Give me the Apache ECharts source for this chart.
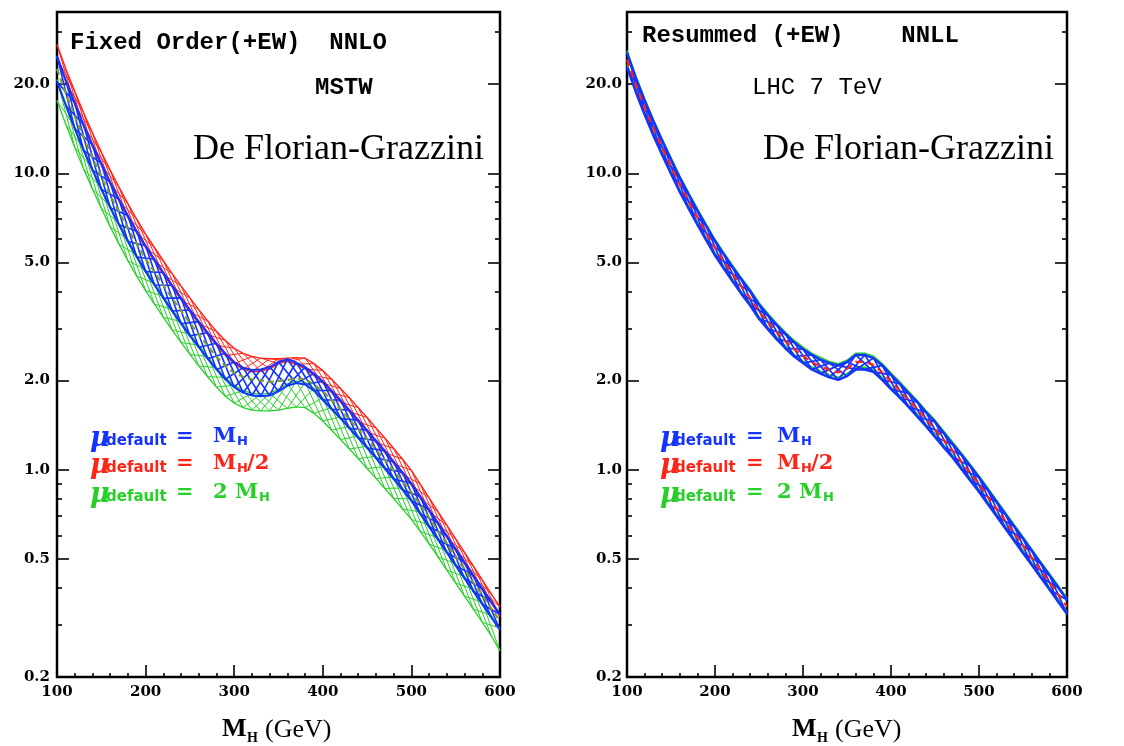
<!DOCTYPE html>
<html>
<head>
<meta charset="utf-8">
<script src="https://cdn.jsdelivr.net/npm/echarts@6/dist/echarts.min.js"></script>
<style>
  html, body { margin: 0; padding: 0; background: #fff; }
  #chart { width: 1124px; height: 746px; }
</style>
</head>
<body>
<div id="chart"></div>
<script>
// Higgs mass grid (GeV)
const massGrid = [100,110,120,130,140,150,160,170,180,190,200,210,220,230,240,250,260,270,280,290,300,
  310,320,330,340,350,360,370,380,390,400,410,420,430,440,450,460,470,480,490,500,
  510,520,530,540,550,560,570,580,590,600];

// Fixed order NNLO (+EW), cross section in pb
const fixedRedUpper = [27.2,22.5,18.9,16.0,13.7,11.8,10.25,8.98,7.9,7.0,6.24,5.62,5.07,4.59,4.17,3.8,3.47,3.18,2.93,2.73,2.57,
  2.47,2.41,2.38,2.37,2.37,2.38,2.39,2.38,2.28,2.16,2.02,1.88,1.75,1.62,1.5,1.385,1.28,1.18,1.085,0.995,
  0.895,0.804,0.723,0.65,0.585,0.526,0.473,0.425,0.382,0.344];
const fixedRedLower = [24.5,20.3,17.05,14.4,12.3,10.65,9.21,8.06,7.09,6.28,5.61,5.05,4.56,4.13,3.74,3.41,3.11,2.86,2.63,2.43,2.28,
  2.18,2.14,2.15,2.19,2.28,2.32,2.27,2.19,2.08,1.96,1.82,1.69,1.57,1.45,1.34,1.236,1.143,1.049,0.965,0.887,
  0.801,0.723,0.653,0.59,0.533,0.481,0.434,0.392,0.355,0.32];
const fixedBlueUpper = [24.9,20.6,17.3,14.6,12.5,10.8,9.35,8.18,7.2,6.38,5.7,5.13,4.63,4.19,3.8,3.46,3.16,2.9,2.67,2.47,2.31,
  2.21,2.17,2.18,2.22,2.31,2.36,2.3,2.22,2.11,1.99,1.85,1.72,1.59,1.47,1.36,1.255,1.16,1.065,0.98,0.9,
  0.813,0.734,0.663,0.599,0.541,0.488,0.441,0.398,0.36,0.325];
const fixedBlueLower = [20.4,16.9,14.15,11.95,10.25,8.83,7.66,6.7,5.89,5.22,4.66,4.2,3.79,3.43,3.11,2.83,2.59,2.37,2.18,2.02,1.9,
  1.82,1.78,1.77,1.78,1.84,1.92,1.96,1.94,1.85,1.72,1.6,1.49,1.38,1.28,1.185,1.095,1.01,0.93,0.855,0.785,
  0.71,0.642,0.581,0.525,0.475,0.43,0.389,0.352,0.318,0.288];
const fixedGreenUpper = [20.7,17.15,14.35,12.13,10.4,8.96,7.77,6.8,5.98,5.3,4.73,4.26,3.85,3.48,3.16,2.87,2.63,2.41,2.21,2.05,1.93,
  1.85,1.81,1.8,1.81,1.87,1.95,1.99,1.97,1.88,1.75,1.62,1.51,1.4,1.3,1.2,1.11,1.025,0.944,0.868,0.797,
  0.721,0.652,0.59,0.533,0.482,0.436,0.395,0.357,0.323,0.292];
const fixedGreenLower = [17.6,14.6,12.25,10.35,8.85,7.62,6.6,5.77,5.07,4.5,4.02,3.62,3.27,2.96,2.69,2.45,2.24,2.06,1.9,1.77,1.68,
  1.62,1.59,1.58,1.58,1.59,1.61,1.63,1.62,1.55,1.46,1.36,1.265,1.175,1.09,1.01,0.935,0.865,0.8,0.738,0.68,
  0.62,0.562,0.508,0.459,0.415,0.375,0.339,0.306,0.276,0.245];
const fixedCentral = [22.5,18.6,15.6,13.2,11.3,9.75,8.45,7.4,6.5,5.77,5.15,4.64,4.19,3.79,3.44,3.13,2.86,2.62,2.41,2.24,2.12,
  2.06,2.02,2.0,1.98,1.99,2.01,2.03,2.02,1.94,1.84,1.72,1.6,1.48,1.37,1.27,1.17,1.08,0.995,0.915,0.84,
  0.76,0.688,0.622,0.563,0.51,0.461,0.417,0.377,0.341,0.309];

// Resummed NNLL (+EW), cross section in pb
const resumBlueUpper = [25.53,20.99,17.62,14.98,12.87,11.13,9.65,8.49,7.49,6.65,5.91,5.33,4.82,4.38,4.0,3.61,3.32,3.08,2.87,2.69,2.55,
  2.44,2.35,2.29,2.25,2.31,2.44,2.44,2.38,2.25,2.09,1.95,1.81,1.69,1.56,1.45,1.33,1.22,1.124,1.029,0.941,
  0.856,0.779,0.708,0.644,0.586,0.533,0.484,0.441,0.401,0.364];
const resumBlueLower = [22.87,18.81,15.78,13.42,11.53,9.97,8.65,7.61,6.71,5.95,5.29,4.77,4.32,3.92,3.58,3.23,2.98,2.76,2.57,2.41,2.29,
  2.18,2.11,2.05,2.01,2.07,2.18,2.18,2.14,2.01,1.87,1.75,1.63,1.51,1.4,1.29,1.19,1.1,1.006,0.921,0.843,
  0.766,0.697,0.634,0.576,0.524,0.477,0.434,0.395,0.359,0.326];
const resumGreenUpper = [25.89,21.29,17.87,15.19,13.05,11.29,9.79,8.61,7.6,6.74,5.99,5.4,4.89,4.44,4.06,3.66,3.37,3.12,2.91,2.73,2.59,
  2.47,2.39,2.32,2.28,2.34,2.47,2.47,2.42,2.28,2.12,1.98,1.84,1.71,1.58,1.47,1.35,1.24,1.14,1.043,0.954,
  0.868,0.79,0.718,0.653,0.594,0.54,0.491,0.447,0.407,0.369];
const resumGreenLower = [23.28,19.14,16.07,13.66,11.74,10.15,8.8,7.74,6.83,6.06,5.39,4.86,4.4,3.99,3.65,3.29,3.03,2.81,2.62,2.45,2.33,
  2.22,2.15,2.09,2.05,2.11,2.22,2.22,2.17,2.05,1.9,1.78,1.65,1.54,1.42,1.32,1.21,1.12,1.025,0.938,0.858,
  0.78,0.71,0.645,0.587,0.534,0.486,0.442,0.402,0.366,0.332];
const resumCentral = [24.2,19.9,16.7,14.2,12.2,10.55,9.15,8.05,7.1,6.3,5.6,5.05,4.57,4.15,3.79,3.42,3.15,2.92,2.72,2.55,2.42,
  2.31,2.23,2.17,2.13,2.19,2.31,2.31,2.26,2.13,1.98,1.85,1.72,1.6,1.48,1.37,1.26,1.16,1.065,0.975,0.892,
  0.811,0.738,0.671,0.61,0.555,0.505,0.459,0.418,0.38,0.345];

// Axis ticks
const xMin = 100, xMax = 600, xStep = 100;
const yMin = 0.2, yMax = 35;
const yTickValues = [0.2, 0.5, 1, 2, 5, 10, 20];
const yTickLabels = ['0.2', '0.5', '1.0', '2.0', '5.0', '10.0', '20.0'];
const yMinorValues = [0.3, 0.4, 0.6, 0.7, 0.8, 0.9, 3, 4, 6, 7, 8, 9, 30];

const BLUE = '#1433ff', RED = '#ff2418', GREEN = '#27d027', OLIVE = '#7c9e36';

function pairs(ys) { return massGrid.map((m, i) => [m, ys[i]]); }

// zig-zag polyline running between the two edges of a band (cross hatching)
function hatch(upper, lower, phase, startUp) {
  const pts = [];
  let up = startUp;
  for (let i = phase; i < massGrid.length; i += 2) {
    pts.push([massGrid[i], up ? upper[i] : lower[i]]);
    up = !up;
  }
  return pts;
}

function line(xi, yi, data, color, width, z, dash) {
  return {
    type: 'line', xAxisIndex: xi, yAxisIndex: yi, data: data,
    symbol: 'none', showSymbol: false, silent: true, animation: false, z: z,
    lineStyle: { color: color, width: width, type: dash || 'solid' },
    emphasis: { disabled: true }
  };
}

function bandSeries(xi, yi, upper, lower, color, edgeW, hatchW, z) {
  const out = [line(xi, yi, pairs(upper), color, edgeW, z), line(xi, yi, pairs(lower), color, edgeW, z)];
  [0, 1].forEach(phase => [true, false].forEach(s => out.push(line(xi, yi, hatch(upper, lower, phase, s), color, hatchW, z))));
  return out;
}

const tickFont = { color: '#000', fontFamily: 'DejaVu Serif', fontWeight: 'bold', fontSize: 15 };

function xAx(gridIndex) {
  return {
    gridIndex: gridIndex, type: 'value', min: xMin, max: xMax, interval: xStep, position: 'bottom',
    axisLine: { show: false }, splitLine: { show: false },
    axisTick: { show: true, inside: true, length: 12, lineStyle: { color: '#000', width: 1.6 } },
    minorTick: { show: true, splitNumber: 5, length: 4, lineStyle: { color: '#000', width: 1.6 } },
    axisLabel: Object.assign({ margin: 8 }, tickFont)
  };
}

function yAx(gridIndex, position, ticks, len, withLabels, labelMargin) {
  return {
    gridIndex: gridIndex, type: 'log', logBase: 10, min: yMin, max: yMax, position: position,
    axisLine: { show: false }, splitLine: { show: false }, minorTick: { show: false },
    axisTick: { show: true, inside: true, length: len, customValues: ticks, lineStyle: { color: '#000', width: 1.6 } },
    axisLabel: withLabels ? Object.assign({
      show: true, margin: labelMargin, customValues: yTickValues,
      formatter: v => {
        const i = yTickValues.findIndex(t => Math.abs(t - v) < 1e-9 * Math.max(1, t));
        return i >= 0 ? yTickLabels[i] : '';
      }
    }, tickFont) : { show: false }
  };
}

function txt(x, y, text, font, fill, align) {
  return {
    type: 'text', x: x, y: y, silent: true,
    style: { text: text, font: font, fill: fill || '#000',
      textAlign: align || 'left', textVerticalAlign: 'middle',
      align: align || 'left', verticalAlign: 'middle' }
  };
}

// legend rows: mu_default = ...
function legendRows(pos, rows) {
  const els = [];
  rows.forEach(r => {
    els.push(txt(pos.mu, r.y + 2, 'μ', 'italic bold 27px "DejaVu Serif"', r.color));
    els.push(txt(pos.def, r.y + 4, 'default', 'bold 15px "DejaVu Sans"', r.color));
    els.push(txt(pos.eq, r.y, '=', 'bold 21px "DejaVu Serif"', r.color));
    r.parts.forEach(p => els.push(txt(pos.base + p.dx, r.y + (p.sub ? 5 : 0), p.t,
      p.sub ? 'bold 13px "DejaVu Sans"' : 'bold 21px "DejaVu Serif"', r.color)));
  });
  return els;
}

const rowsSpec = [
  { y: 437, color: BLUE, parts: [{ t: 'M', dx: 0 }, { t: 'H', dx: 24, sub: true }] },
  { y: 464, color: RED, parts: [{ t: 'M', dx: 0 }, { t: 'H', dx: 24, sub: true }, { t: '/2', dx: 34 }] },
  { y: 493, color: GREEN, parts: [{ t: '2', dx: 0 }, { t: 'M', dx: 22 }, { t: 'H', dx: 46, sub: true }] }
];

const mono = 'bold 24px "Liberation Mono"';
const graphics = [
  txt(70, 43, 'Fixed Order(+EW)  NNLO', mono),
  txt(315, 88, 'MSTW', mono),
  txt(193, 150, 'De Florian-Grazzini', '36px "Liberation Serif"'),
  txt(642, 36, 'Resummed (+EW)    NNLL', mono),
  txt(752, 88, 'LHC 7 TeV', '24px "Liberation Mono"'),
  txt(763, 150, 'De Florian-Grazzini', '36px "Liberation Serif"'),
  // x axis titles
  txt(222, 729, 'M', 'bold 26px "Liberation Serif"'),
  txt(247, 738, 'H', 'bold 14px "Liberation Serif"'),
  txt(265, 730, '(GeV)', '26px "Liberation Serif"'),
  txt(792, 729, 'M', 'bold 26px "Liberation Serif"'),
  txt(817, 738, 'H', 'bold 14px "Liberation Serif"'),
  txt(835, 730, '(GeV)', '26px "Liberation Serif"')
].concat(
  legendRows({ mu: 90, def: 106, eq: 176, base: 213 }, rowsSpec),
  legendRows({ mu: 660, def: 675, eq: 746, base: 777 }, rowsSpec)
);

const series = [].concat(
  // left panel: fixed order
  bandSeries(0, 0, fixedGreenUpper, fixedGreenLower, GREEN, 1.3, 1.0, 2),
  bandSeries(0, 0, fixedRedUpper, fixedRedLower, RED, 1.4, 1.0, 3),
  bandSeries(0, 0, fixedBlueUpper, fixedBlueLower, BLUE, 2.0, 1.6, 4),
  [line(0, 0, pairs(fixedCentral), OLIVE, 2.2, 5, [6, 4])],
  // right panel: resummed
  [line(1, 4, pairs(resumGreenUpper), GREEN, 1.6, 2), line(1, 4, pairs(resumGreenLower), GREEN, 1.6, 2)],
  bandSeries(1, 4, resumBlueUpper, resumBlueLower, BLUE, 2.5, 1.7, 4),
  [line(1, 4, pairs(resumCentral), RED, 2.2, 5, [7, 5])]
);

const chart = echarts.init(document.getElementById('chart'), null, { renderer: 'canvas' });
chart.setOption({
  animation: false,
  backgroundColor: '#fff',
  grid: [
    { left: 57, top: 12, width: 443, height: 665, show: true, borderColor: '#000', borderWidth: 2.5, backgroundColor: 'transparent' },
    { left: 627, top: 12, width: 440, height: 665, show: true, borderColor: '#000', borderWidth: 2.5, backgroundColor: 'transparent' }
  ],
  xAxis: [xAx(0), xAx(1)],
  yAxis: [
    yAx(0, 'left', yTickValues, 12, true, 7),
    yAx(0, 'left', yMinorValues, 5, false),
    yAx(0, 'right', yTickValues, 12, false),
    yAx(0, 'right', yMinorValues, 5, false),
    yAx(1, 'left', yTickValues, 12, true, 5),
    yAx(1, 'left', yMinorValues, 5, false),
    yAx(1, 'right', yTickValues, 12, false),
    yAx(1, 'right', yMinorValues, 5, false)
  ],
  series: series,
  graphic: graphics
});
</script>
</body>
</html>
